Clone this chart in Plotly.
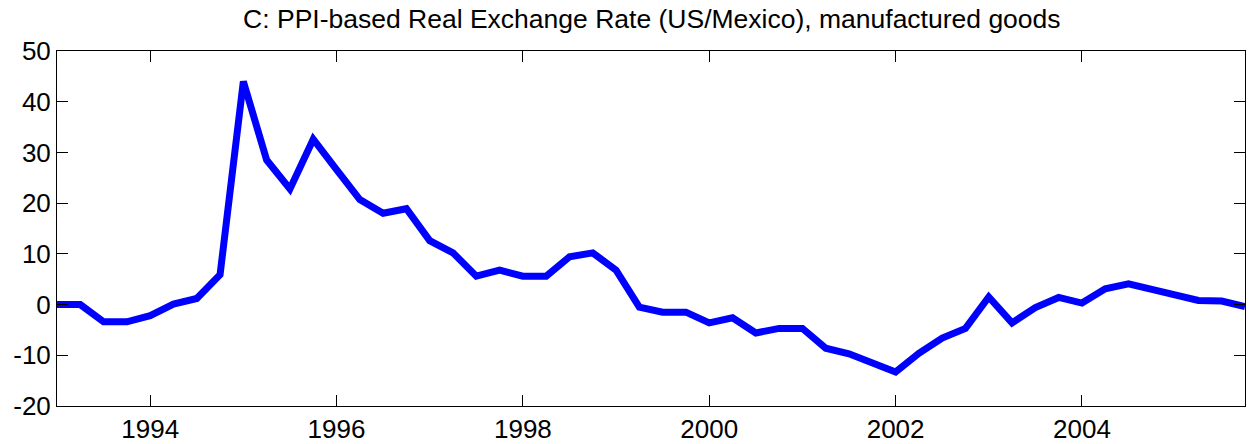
import plotly.graph_objects as go

# quarterly dates 1993Q1 .. 2005Q4
years = [1993 + 0.25 * i for i in range(52)]
rer = [0.0, 0.0, -3.4, -3.4, -2.2, 0.1, 1.2, 5.9,
       44.0, 28.5, 22.8, 32.6, 26.6, 20.7, 18.0, 18.9,
       12.6, 10.2, 5.6, 6.8, 5.6, 5.6, 9.4, 10.2,
       6.8, -0.5, -1.5, -1.5, -3.6, -2.6, -5.6, -4.7,
       -4.7, -8.6, -9.7, -11.5, -13.3, -9.6, -6.6, -4.7,
       1.5, -3.6, -0.6, 1.4, 0.3, 3.1, 4.1, 3.0,
       1.9, 0.8, 0.7, -0.4]
xticks = [1994, 1996, 1998, 2000, 2002, 2004]
yticks = [-20, -10, 0, 10, 20, 30, 40, 50]
title = "C: PPI-based Real Exchange Rate (US/Mexico), manufactured goods"

fig = go.Figure()
fig.add_trace(go.Scatter(x=years, y=rer, mode="lines",
                         line=dict(color="#0000FF", width=7), showlegend=False))

font = dict(family="Liberation Sans, Arial, Helvetica, sans-serif", color="black")
axis_common = dict(showgrid=False, zeroline=False, showline=True, linecolor="black",
                   linewidth=1, mirror="ticks", ticks="inside", ticklen=11,
                   tickcolor="black", tickwidth=1, automargin=False,
                   tickfont=dict(size=26, **font))
fig.update_layout(
    width=1249, height=444,
    margin=dict(l=57, r=4, t=51, b=38),
    paper_bgcolor="white", plot_bgcolor="white",
    title=dict(text=title, x=0.5219, xanchor="center", y=0.957, yanchor="middle",
               font=dict(size=26.5, **font)),
    xaxis=dict(range=[1993, 2005.75], tickvals=xticks, ticktext=[str(t) for t in xticks],
               **axis_common),
    yaxis=dict(range=[-20, 50], tickvals=yticks, ticktext=[str(t) for t in yticks],
               **axis_common),
)
fig.write_html("out.html", config={"displayModeBar": False},
               post_script="document.body.style.margin='0';document.body.style.overflow='hidden';")
